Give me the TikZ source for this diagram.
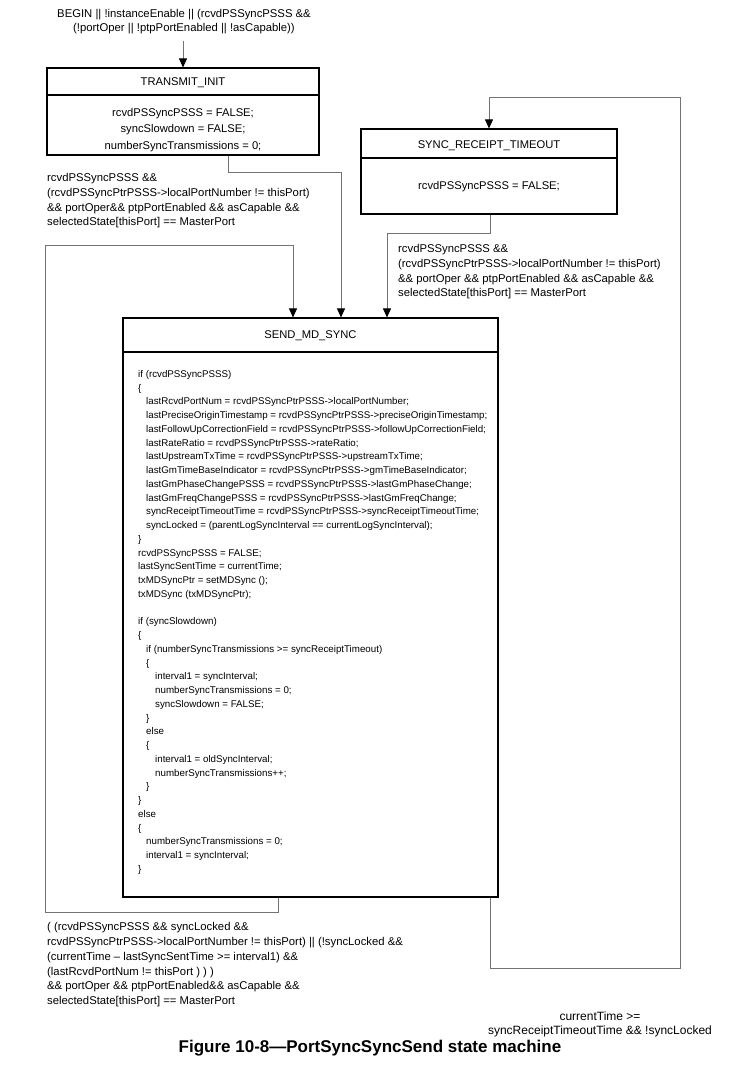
\documentclass[tikz,border=0pt]{standalone}
\usepackage{fontspec}
\setmainfont{Liberation Sans}
\usetikzlibrary{arrows.meta,positioning,calc,shadows}

\begin{document}
\begin{tikzpicture}[x=1pt,y=-1pt,
        statebox/.style={rectangle,draw,fill=white,line width=1.1pt,inner sep=0pt,
            drop shadow={shadow xshift=0.8pt,shadow yshift=-0.8pt,fill=black!60,opacity=1}},
        title/.style={inner sep=0pt,font=\fontsize{11.2}{13}\selectfont},
        code/.style={inner sep=0pt,align=left,anchor=north west,font=\fontsize{9.75}{13.75}\selectfont},
        guard/.style={inner sep=0pt,align=left,anchor=north west,font=\fontsize{11.3}{14.7}\selectfont},
        conn/.style={draw=black!55,line width=0.8pt},
        arrow/.style={conn,-{Triangle[width=8pt,length=9pt,color=black]}}
    ]
        \useasboundingbox (0,0) rectangle (739,1071);

        % states
        \node[statebox, minimum width=272pt, minimum height=87pt] (tinit) at (183,111.5) {};
        \node[title] (tinittitle) at (183,83) {TRANSMIT\_INIT};
        \draw[line width=1.1pt] (tinit.west |- 0,95) -- (tinit.east |- 0,95);
        \node[title, align=center, font=\fontsize{11.2}{16.5}\selectfont] (tinitbody) at (183,130)
            {rcvdPSSyncPSSS = FALSE;\\syncSlowdown = FALSE;\\numberSyncTransmissions = 0;};

        \node[statebox, minimum width=256pt, minimum height=85pt] (srt) at (489,171.5) {};
        \node[title] (srttitle) at (489,146) {SYNC\_RECEIPT\_TIMEOUT};
        \draw[line width=1.1pt] (srt.west |- 0,158) -- (srt.east |- 0,158);
        \node[title] (srtbody) at (489,187) {rcvdPSSyncPSSS = FALSE;};

        \node[statebox, minimum width=375pt, minimum height=579pt] (send) at (310.5,607.5) {};
        \node[title] (sendtitle) at (310.5,336) {SEND\_MD\_SYNC};
        \draw[line width=1.1pt] (send.west |- 0,352) -- (send.east |- 0,352);
        \node[code] (sendbody) at (138,370) {%
            if (rcvdPSSyncPSSS)\\
            \{\\
            \hspace*{8pt}lastRcvdPortNum = rcvdPSSyncPtrPSSS->localPortNumber;\\
            \hspace*{8pt}lastPreciseOriginTimestamp = rcvdPSSyncPtrPSSS->preciseOriginTimestamp;\\
            \hspace*{8pt}lastFollowUpCorrectionField = rcvdPSSyncPtrPSSS->followUpCorrectionField;\\
            \hspace*{8pt}lastRateRatio = rcvdPSSyncPtrPSSS->rateRatio;\\
            \hspace*{8pt}lastUpstreamTxTime = rcvdPSSyncPtrPSSS->upstreamTxTime;\\
            \hspace*{8pt}lastGmTimeBaseIndicator = rcvdPSSyncPtrPSSS->gmTimeBaseIndicator;\\
            \hspace*{8pt}lastGmPhaseChangePSSS = rcvdPSSyncPtrPSSS->lastGmPhaseChange;\\
            \hspace*{8pt}lastGmFreqChangePSSS = rcvdPSSyncPtrPSSS->lastGmFreqChange;\\
            \hspace*{8pt}syncReceiptTimeoutTime = rcvdPSSyncPtrPSSS->syncReceiptTimeoutTime;\\
            \hspace*{8pt}syncLocked = (parentLogSyncInterval == currentLogSyncInterval);\\
            \}\\
            rcvdPSSyncPSSS = FALSE;\\
            lastSyncSentTime = currentTime;\\
            txMDSyncPtr = setMDSync ();\\
            txMDSync (txMDSyncPtr);\\[13.75pt]
            if (syncSlowdown)\\
            \{\\
            \hspace*{8pt}if (numberSyncTransmissions >= syncReceiptTimeout)\\
            \hspace*{8pt}\{\\
            \hspace*{17pt}interval1 = syncInterval;\\
            \hspace*{17pt}numberSyncTransmissions = 0;\\
            \hspace*{17pt}syncSlowdown = FALSE;\\
            \hspace*{8pt}\}\\
            \hspace*{8pt}else\\
            \hspace*{8pt}\{\\
            \hspace*{17pt}interval1 = oldSyncInterval;\\
            \hspace*{17pt}numberSyncTransmissions++;\\
            \hspace*{8pt}\}\\
            \}\\
            else\\
            \{\\
            \hspace*{8pt}numberSyncTransmissions = 0;\\
            \hspace*{8pt}interval1 = syncInterval;\\
            \}};

        % guards
        \node[title, align=center, font=\fontsize{11.3}{14.2}\selectfont] (begin) at (184,22)
            {BEGIN || !instanceEnable || (rcvdPSSyncPSSS \&\&\\(!portOper || !ptpPortEnabled || !asCapable))};
        \node[guard] (lbltx) at (47,173.5) {rcvdPSSyncPSSS \&\&\\(rcvdPSSyncPtrPSSS->localPortNumber != thisPort)\\\&\& portOper\&\& ptpPortEnabled \&\& asCapable \&\&\\selectedState[thisPort] == MasterPort};
        \node[guard] (lblsrt) at (398,244.5) {rcvdPSSyncPSSS \&\&\\(rcvdPSSyncPtrPSSS->localPortNumber != thisPort)\\\&\& portOper \&\& ptpPortEnabled \&\& asCapable \&\&\\selectedState[thisPort] == MasterPort};
        \node[guard] (lblloop) at (47,922.5) {( (rcvdPSSyncPSSS \&\& syncLocked \&\&\\rcvdPSSyncPtrPSSS->localPortNumber != thisPort) || (!syncLocked \&\&\\(currentTime – lastSyncSentTime >= interval1) \&\&\\(lastRcvdPortNum != thisPort ) ) )\\\&\& portOper \&\& ptpPortEnabled\&\& asCapable \&\&\\selectedState[thisPort] == MasterPort};
        \node[title, align=center, font=\fontsize{12}{14.2}\selectfont] (lbltimeout) at (600,1024) {currentTime >=\\syncReceiptTimeoutTime \&\& !syncLocked};

        \node[title, font=\fontsize{17}{19}\bfseries] (caption) at (370,1048) {Figure 10-8—PortSyncSyncSend state machine};

        % transitions
        \coordinate (tocorner) at (680,97);
        \coordinate (loopcorner) at (45,245);
        \draw[arrow] ([yshift=-6pt]begin.south -| tinit.north) -- (tinit.north);
        \draw[arrow] ([xshift=45pt]tinit.south) -- ++(0,17) -| ([xshift=30.5pt]send.north);
        \draw[arrow] ([xshift=1pt]srt.south) -- ++(0,19) -| ([xshift=76.5pt]send.north);
        \draw[arrow] ([xshift=179.5pt]send.south) |- (tocorner |- 0,968) -- (tocorner) -| (srt.north);
        \draw[arrow] ([xshift=-32.5pt]send.south) -- ++(0,15) -| (loopcorner) -| ([xshift=-17.5pt]send.north);
    \end{tikzpicture}
\end{document}
